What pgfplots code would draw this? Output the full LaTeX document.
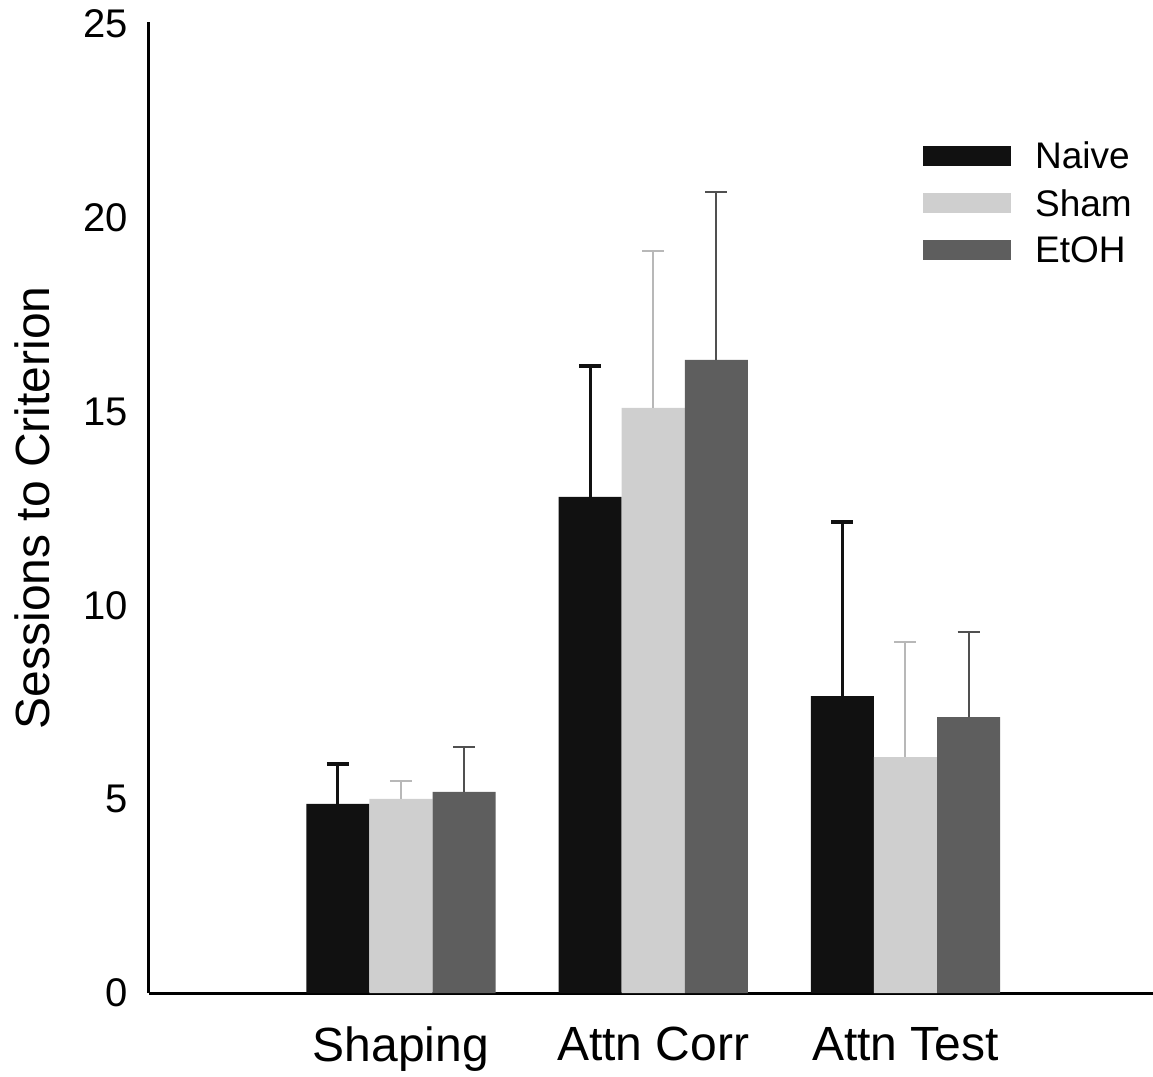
\documentclass[border=0pt]{standalone}
\usepackage{fontspec}
\setmainfont{Liberation Sans}
\usepackage{pgfplots}
\usepackage{pgfplotstable}
\pgfplotsset{compat=1.18}
\definecolor{cNaive}{HTML}{111111}
\definecolor{cSham}{HTML}{CFCFCF}
\definecolor{cShamE}{HTML}{B8B8B8}
\definecolor{cEtOH}{HTML}{5E5E5E}
\definecolor{cEtOHE}{HTML}{505050}

\pgfplotstableread{
x y e
1 4.88 1.03
2 12.80 3.38
3 7.66 4.49
}\naive
\pgfplotstableread{
x y e
1 5.01 0.46
2 15.10 4.05
3 6.09 2.97
}\sham
\pgfplotstableread{
x y e
1 5.19 1.16
2 16.34 4.33
3 7.12 2.20
}\etoh

\begin{document}
\begin{tikzpicture}
\begin{axis}[
  name=ax,
  scale only axis,
  width=1005.2pt, height=970.7pt,
  xmin=0, xmax=3.985,
  ymin=0, ymax=25.05,
  axis lines=left,
  axis line style={-, line width=3pt, black},
  clip=false,
  ybar=0pt,
  bar width=0.25,
  xtick={1,2,3},
  xticklabels={Shaping, Attn Corr, Attn Test},
  ytick={0,5,10,15,20,25},
  major tick length=0pt,
  tick style={draw=none},
  /pgf/number format/assume math mode=true,
  yticklabel style={font=\fontsize{40}{44}\selectfont, inner sep=0pt, anchor=east, xshift=-20.75pt},
  xticklabel style={font=\fontsize{48}{52}\selectfont, inner sep=0pt, anchor=north, yshift=-34pt},
  ylabel={Sessions to Criterion},
  every axis y label/.style={at={(axis description cs:-0.09824,0.5)}, rotate=90, anchor=south, inner sep=0pt, font=\fontsize{48}{52}\selectfont},
  legend style={draw=none, fill=none, at={(axis description cs:0.7702,0.877)}, anchor=north west, inner sep=0pt, font=\fontsize{37}{40}\selectfont, row sep=19pt, column sep=24pt, nodes={inner sep=0pt}},
  legend cell align=left,
  legend image code/.code={\fill[#1] (0pt,-10pt) rectangle (88pt,10pt);},
]
\addplot[ybar, bar shift=-0.25, fill=cNaive, draw=none,
  error bars/.cd, y dir=plus, y explicit,
  error bar style={line width=3pt, color=cNaive},
  error mark options={rotate=90, mark size=11pt, line width=3.5pt, color=cNaive}]
  table[x=x, y=y, y error=e] {\naive};
\addplot[ybar, bar shift=0, fill=cSham, draw=none,
  error bars/.cd, y dir=plus, y explicit,
  error bar style={line width=2pt, color=cShamE},
  error mark options={rotate=90, mark size=11pt, line width=2.5pt, color=cShamE}]
  table[x=x, y=y, y error=e] {\sham};
\addplot[ybar, bar shift=0.25, fill=cEtOH, draw=none,
  error bars/.cd, y dir=plus, y explicit,
  error bar style={line width=2pt, color=cEtOHE},
  error mark options={rotate=90, mark size=11pt, line width=2.5pt, color=cEtOHE}]
  table[x=x, y=y, y error=e] {\etoh};
\legend{Naive, Sham, EtOH}
\end{axis}
\pgfresetboundingbox
\path (ax.south west) ++(-148.75pt,-83pt) rectangle ++(1153pt,1076pt);
\end{tikzpicture}
\end{document}
